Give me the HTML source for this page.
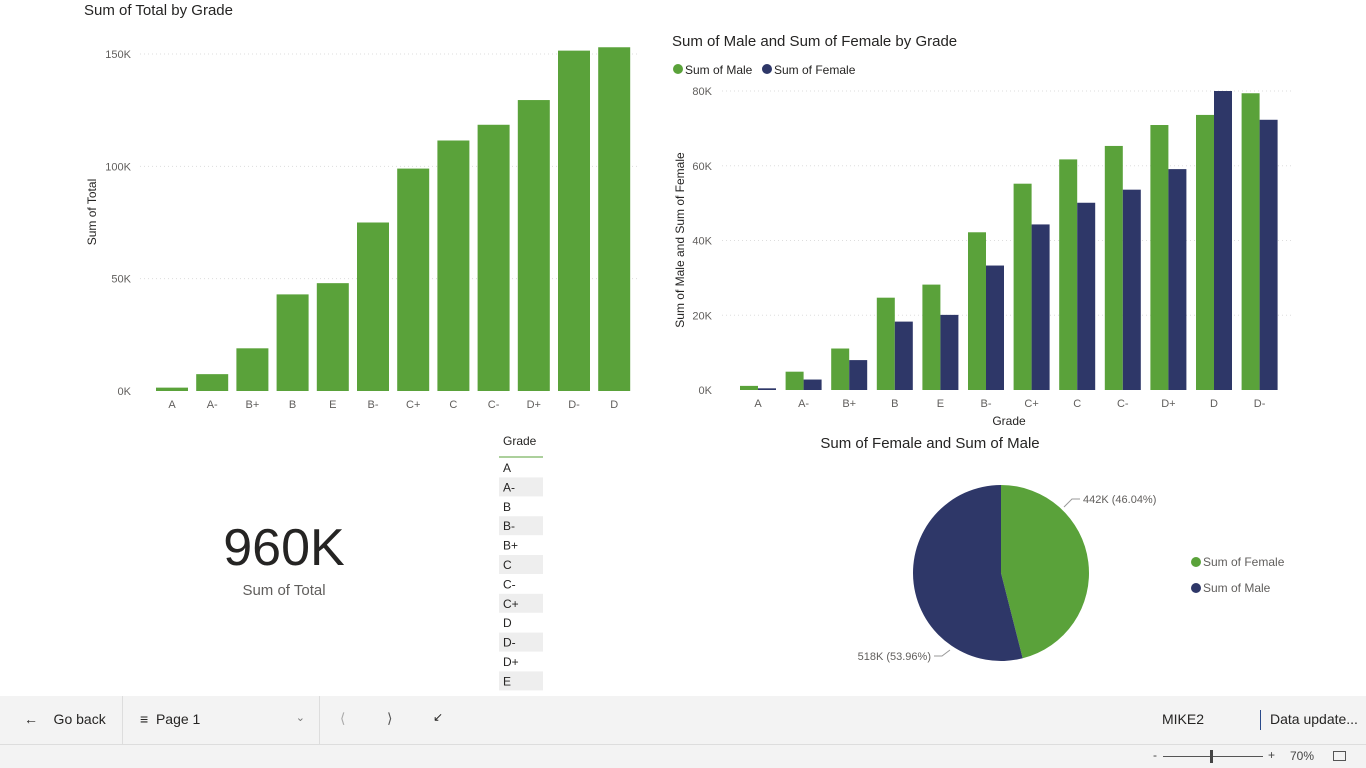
<!DOCTYPE html>
<html><head><meta charset="utf-8"><style>
body{margin:0;width:1366px;height:768px;background:#fff;font-family:"Liberation Sans",sans-serif;overflow:hidden;position:relative}
.abs{position:absolute}
svg text{font-family:"Liberation Sans",sans-serif}
</style></head><body>
<svg id="c" width="1366" height="696" class="abs" style="left:0;top:0"></svg>

<div class="abs" style="left:184px;top:518px;width:200px;text-align:center;font-size:52px;color:#252423">960K</div>
<div class="abs" style="left:184px;top:582px;width:200px;text-align:center;font-size:15px;color:#605e5c">Sum of Total</div>

<div class="abs" style="left:0;top:696px;width:1366px;height:48px;background:#f3f3f3;border-bottom:1px solid #ddd;font-size:14px;color:#252423">
  <div class="abs" style="left:24px;top:15px">&#8592;&nbsp;&nbsp;&nbsp;&nbsp;Go back</div>
  <div class="abs" style="left:122px;top:0;width:1px;height:48px;background:#ddd"></div>
  <div class="abs" style="left:140px;top:15px;width:165px">&#8801;&nbsp;&nbsp;Page 1<span style="position:absolute;right:0;font-size:11px;color:#777">&#8964;</span></div>
  <div class="abs" style="left:319px;top:0;width:1px;height:48px;background:#ddd"></div>
  <div class="abs" style="left:340px;top:14px;color:#aaa">&#10216;</div>
  <div class="abs" style="left:387px;top:14px;color:#555">&#10217;</div>
  <div class="abs" style="left:433px;top:14px;font-size:12px">&#8601;</div>
  <div class="abs" style="left:1162px;top:15px">MIKE2</div>
  <div class="abs" style="left:1260px;top:14px;width:1px;height:20px;background:#2a4a8a"></div>
  <div class="abs" style="left:1270px;top:15px">Data update...</div>
</div>
<div class="abs" style="left:0;top:745px;width:1366px;height:23px;background:#f3f3f3;font-size:12px;color:#444">
  <div class="abs" style="left:1153px;top:3px">-</div>
  <div class="abs" style="left:1163px;top:11px;width:100px;height:1px;background:#555"></div>
  <div class="abs" style="left:1210px;top:5px;width:3px;height:13px;background:#444"></div>
  <div class="abs" style="left:1268px;top:3px">+</div>
  <div class="abs" style="left:1290px;top:4px">70%</div>
  <div class="abs" style="left:1333px;top:6px;width:11px;height:8px;border:1px solid #555"></div>
</div>

<script>
const NS="http://www.w3.org/2000/svg";
const svg=document.getElementById('c');
function mk(t,a,p){const e=document.createElementNS(NS,t);for(const k in a)e.setAttribute(k,a[k]);(p||svg).appendChild(e);return e;}
function tx(x,y,s,a){const e=mk('text',Object.assign({x:x,y:y},a));e.textContent=s;return e;}
const G='#5aa23a',N='#2e3768';

// ---- chart 1 data
const totalCats=['A','A-','B+','B','E','B-','C+','C','C-','D+','D-','D'];
const totalVals=[1500,7500,19000,43000,48000,75000,99000,111500,118500,129500,151500,153000];
const totalTicks=[0,50000,100000,150000];
const totalTickLabels=['0K','50K','100K','150K'];

// ---- chart 2 data
const mfCats=['A','A-','B+','B','E','B-','C+','C','C-','D+','D','D-'];
const maleVals=[1100,4900,11100,24700,28200,42200,55200,61700,65300,70900,73600,79400];
const femaleVals=[450,2800,8000,18300,20100,33300,44300,50100,53600,59100,80000,72300];
const mfTicks=[0,20000,40000,60000,80000];
const mfTickLabels=['0K','20K','40K','60K','80K'];

// ---- pie data
const pieLabels=['Sum of Female','Sum of Male'];
const pieVals=[442,518];
const pieText=['442K (46.04%)','518K (53.96%)'];

const tableRows=['A','A-','B','B-','B+','C','C-','C+','D','D-','D+','E'];

// Chart 1
let t=tx(84,15,'Sum of Total by Grade',{'font-size':15,fill:'#252423'});

const y1=v=>391-v*(337/150000);
const x1=i=>172+i*40.2;
totalTicks.forEach((v,i)=>{
  if(v>0){mk('line',{x1:140,x2:640,y1:y1(v),y2:y1(v),stroke:'#ddd','stroke-dasharray':'1,3'});}
  const e=tx(131,y1(v)+4,totalTickLabels[i],{'font-size':11,fill:'#605e5c','text-anchor':'end'});
  
});
t=tx(96,212,'Sum of Total',{'font-size':12,fill:'#252423','text-anchor':'middle',transform:'rotate(-90 96 212)'});

totalCats.forEach((c,i)=>{
  const r=mk('rect',{x:x1(i)-16,y:y1(totalVals[i]),width:32,height:391-y1(totalVals[i]),fill:G});
  
  const e=tx(x1(i),408,c,{'font-size':11,fill:'#605e5c','text-anchor':'middle'});
  
});

// Chart 2
t=tx(672,46,'Sum of Male and Sum of Female by Grade',{'font-size':15,fill:'#252423'});

[['Sum of Male',G,672],['Sum of Female',N,761]].forEach(l=>{
  const c=mk('circle',{cx:l[2]+6,cy:69,r:5,fill:l[1]});
  
  const e=tx(l[2]+13,74,l[0],{'font-size':12,fill:'#252423'});
  
});
const y2=v=>390-v*(299/80000);
const x2=i=>758+i*45.6;
mfTicks.forEach((v,i)=>{
  if(v>0)mk('line',{x1:722,x2:1292,y1:y2(v),y2:y2(v),stroke:'#ddd','stroke-dasharray':'1,3'});
  const e=tx(712,y2(v)+4,mfTickLabels[i],{'font-size':11,fill:'#605e5c','text-anchor':'end'});
  
});
t=tx(684,240,'Sum of Male and Sum of Female',{'font-size':12,fill:'#252423','text-anchor':'middle',transform:'rotate(-90 684 240)'});

t=tx(1009,425,'Grade',{'font-size':12,fill:'#252423','text-anchor':'middle'});

mfCats.forEach((c,i)=>{
  const m=mk('rect',{x:x2(i)-18,y:y2(maleVals[i]),width:18,height:390-y2(maleVals[i]),fill:G});
  
  const f=mk('rect',{x:x2(i),y:y2(femaleVals[i]),width:18,height:390-y2(femaleVals[i]),fill:N});
  
  const e=tx(x2(i),407,c,{'font-size':11,fill:'#605e5c','text-anchor':'middle'});
  
});

// Table
t=tx(503,445,'Grade',{'font-size':12,fill:'#252423'});

mk('line',{x1:499,x2:543,y1:457,y2:457,stroke:G,'stroke-width':1});
tableRows.forEach((g,i)=>{
  const y=458+i*19.4;
  if(i%2==1)mk('rect',{x:499,y:y,width:44,height:19,fill:'#eeeeee'});
  const e=tx(503,y+14,g,{'font-size':12,fill:'#252423'});
  
});

// Pie
t=tx(930,448,'Sum of Female and Sum of Male',{'font-size':15,fill:'#252423','text-anchor':'middle'});

const cx=1001,cy=573,R=88,tot=pieVals.reduce((a,b)=>a+b,0);
let a0=-Math.PI/2;const cols=[G,N];
pieVals.forEach((v,i)=>{
  const a1=a0+v/tot*2*Math.PI;
  const lg=(a1-a0)>Math.PI?1:0;
  const p=mk('path',{d:`M${cx},${cy}L${cx+R*Math.cos(a0)},${cy+R*Math.sin(a0)}A${R},${R} 0 ${lg} 1 ${cx+R*Math.cos(a1)},${cy+R*Math.sin(a1)}Z`,fill:cols[i]});
  
  a0=a1;
});
mk('polyline',{points:'1064,507 1072,499 1080,499',fill:'none',stroke:'#999'});
t=tx(1083,503,pieText[0],{'font-size':11,fill:'#605e5c'});

mk('polyline',{points:'950,650 942,656 934,656',fill:'none',stroke:'#999'});
t=tx(931,660,pieText[1],{'font-size':11,fill:'#605e5c','text-anchor':'end'});

pieLabels.forEach((l,i)=>{
  const c=mk('circle',{cx:1196,cy:562+i*26,r:5,fill:cols[i]});
  
  const e=tx(1203,566+i*26,l,{'font-size':12,fill:'#605e5c'});
  
});
</script>
</body></html>
